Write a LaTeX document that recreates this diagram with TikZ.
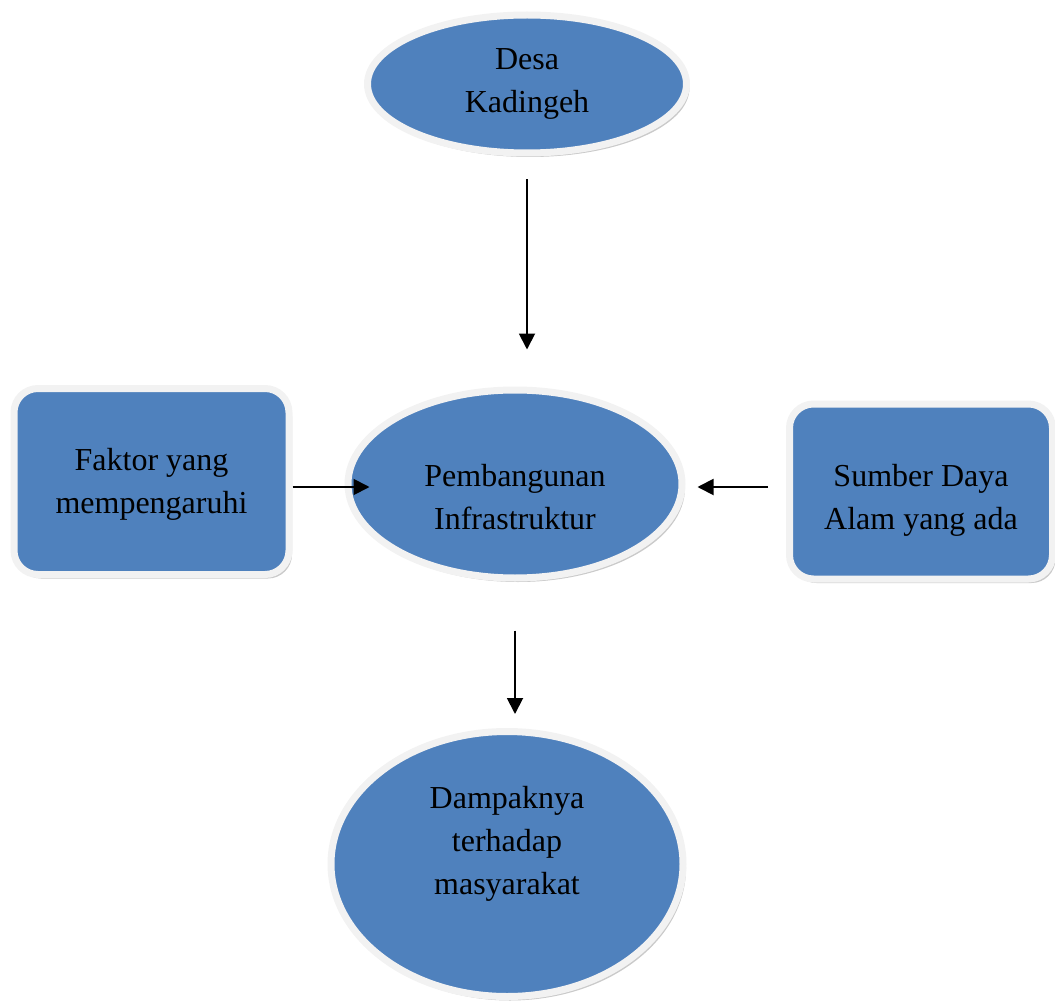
\documentclass[tikz,border=0pt]{standalone}
\usepackage{fontspec}
\setmainfont{Liberation Serif}
\usetikzlibrary{arrows.meta,
                shapes.geometric,
                shadows}
\definecolor{boxblue}{RGB}{79,129,189}
\definecolor{rimgray}{RGB}{242,242,242}
\tikzset{
        base/.style={draw=rimgray, fill=boxblue, line width=7pt,
                     align=center, inner sep=0pt,
                     font=\fontsize{32}{43}\selectfont,
                     drop shadow={shadow xshift=3pt, shadow yshift=-4pt,
                                  opacity=0.35, fill=black!60}},
        oval/.style={base, ellipse},
        card/.style={base, rectangle, rounded corners=24pt},
        myarrow/.style={-{Triangle[length=16pt, width=16pt]}, line width=1.9pt},
}
\begin{document}
\begin{tikzpicture}[x=1pt, y=-1pt]
        \useasboundingbox (0,0) rectangle (1055,1003);

        \node[oval, minimum width=319pt, minimum height=138pt,
              text height=65pt, text depth=7pt] (desa) at (527,84)
              {Desa\\Kadingeh};
        \node[oval, minimum width=334pt, minimum height=188pt,
              text height=90pt, text depth=0pt] (pemb) at (515,484)
              {Pembangunan\\Infrastruktur};
        \node[card, minimum width=275pt, minimum height=186pt,
              text height=70pt, text depth=7pt] (faktor) at (151.5,481.5)
              {Faktor yang\\mempengaruhi};
        \node[card, minimum width=263pt, minimum height=175pt,
              text height=82pt, text depth=7pt] (sumber) at (921,491.5)
              {Sumber Daya\\Alam yang ada};
        \node[oval, minimum width=352pt, minimum height=265pt,
              text height=67pt, text depth=7pt] (dampak) at (507,864)
              {Dampaknya\\terhadap\\masyarakat};

        \draw[myarrow, shorten <=23pt, shorten >=37pt]
             (desa.south) -- (desa.south |- pemb.north);
        \draw[myarrow, shorten >=-25pt]
             ([yshift=-3pt]faktor.east |- pemb.center) -- ([yshift=-3pt]pemb.west);
        \draw[myarrow, shorten <=18pt, shorten >=12pt]
             ([yshift=-3pt]sumber.west |- pemb.center) -- ([yshift=-3pt]pemb.east);
        \draw[myarrow, shorten <=49pt, shorten >=14pt]
             (pemb.south) -- (pemb.south |- dampak.north);
\end{tikzpicture}
\end{document}
